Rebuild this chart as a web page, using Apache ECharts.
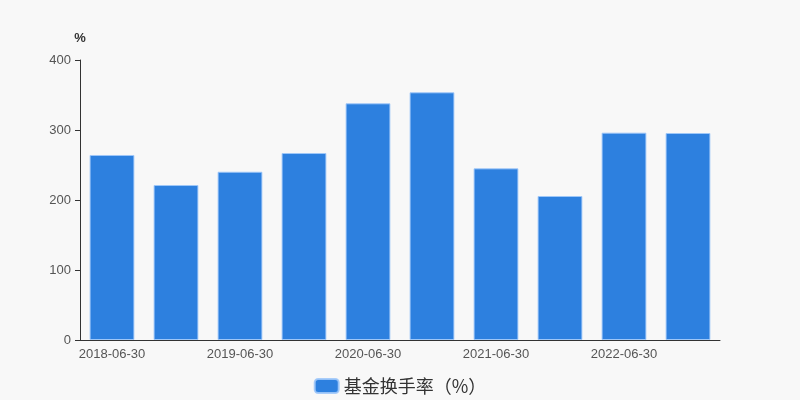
<!DOCTYPE html>
<html>
<head>
<meta charset="utf-8">
<script src="https://cdn.jsdelivr.net/npm/echarts@6/dist/echarts.min.js"></script>
<style>html,body{margin:0;padding:0;background:#f8f8f8;}#c{width:800px;height:400px;}</style>
</head>
<body>
<div id="c"></div>
<script>
const categories = ['2018-06-30','2018-12-31','2019-06-30','2019-12-31','2020-06-30','2020-12-31','2021-06-30','2021-12-31','2022-06-30','2022-12-31'];
const turnover = [264.3, 221.4, 240.4, 267.1, 338.1, 353.8, 245.2, 205.7, 296.2, 295.7];
const seriesName = '基金换手率（%）';
const yTicks = {min: 0, max: 400, interval: 100};

const chart = echarts.init(document.getElementById('c'), null, {renderer: 'canvas'});
chart.setOption({
  backgroundColor: '#f8f8f8',
  animation: false,
  textStyle: {fontFamily: 'Liberation Sans, Arial, sans-serif'},
  grid: {left: 80, right: 80, top: 60, bottom: 60},
  legend: {
    top: 372,
    left: 'center',
    icon: 'roundRect',
    itemWidth: 24,
    itemHeight: 14,
    itemGap: 10,
    textStyle: {fontSize: 18, color: '#333', fontFamily: 'Noto Sans CJK SC, sans-serif'},
    data: [seriesName]
  },
  xAxis: {
    type: 'category',
    data: categories,
    axisLine: {lineStyle: {color: '#333'}},
    axisTick: {lineStyle: {color: '#333'}},
    axisLabel: {interval: 1, color: '#555', fontSize: 13}
  },
  yAxis: {
    type: 'value',
    name: '%',
    nameTextStyle: {color: '#333', fontSize: 13, fontWeight: 'bold'},
    min: yTicks.min, max: yTicks.max, interval: yTicks.interval,
    axisLine: {show: true, lineStyle: {color: '#333'}},
    axisTick: {show: true, lineStyle: {color: '#333'}},
    axisLabel: {color: '#555', fontSize: 13, margin: 9},
    splitLine: {show: false}
  },
  series: [{
    name: seriesName,
    type: 'bar',
    data: turnover,
    barWidth: '70%',
    itemStyle: {color: '#2d80df', borderColor: 'rgba(160,200,250,0.9)', borderWidth: 1}
  }]
});
</script>
</body>
</html>
